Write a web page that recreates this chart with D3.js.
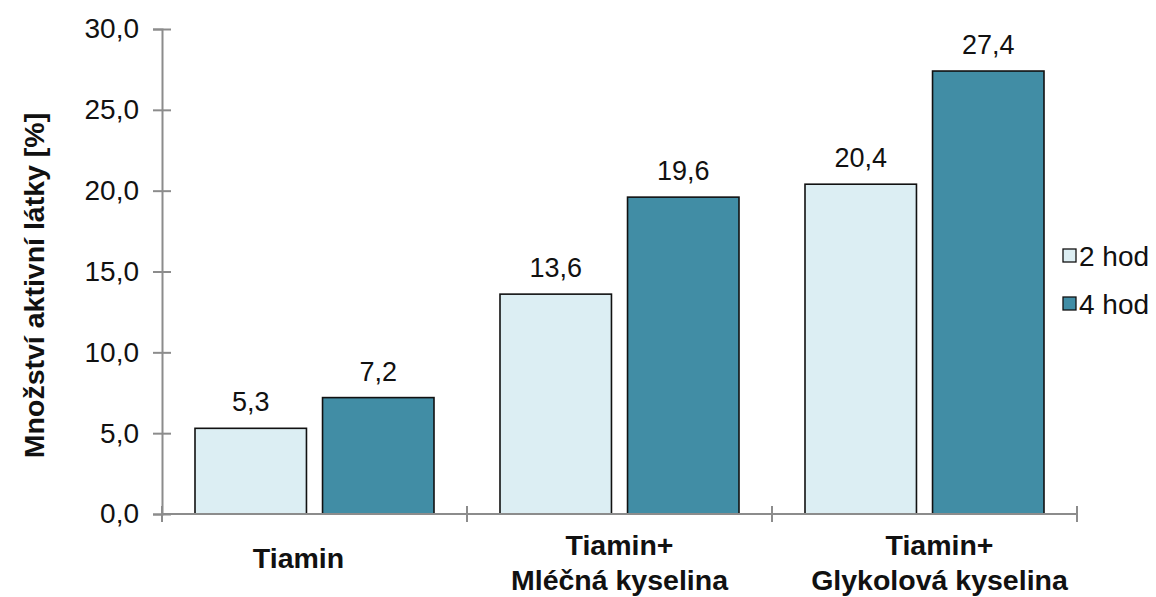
<!DOCTYPE html>
<html><head><meta charset="utf-8">
<script src="https://cdn.jsdelivr.net/npm/d3@7"></script>
<style>body{margin:0;background:#fff}svg{display:block;font-family:"Liberation Sans",Arial,sans-serif}</style>
</head><body><svg id="c" width="1156" height="597"></svg>
<script>
const categories = [["Tiamin"], ["Tiamin+", "Mléčná kyselina"], ["Tiamin+", "Glykolová kyselina"]];
const series = ["2 hod", "4 hod"];
const values2h = [5.3, 13.6, 20.4];
const values4h = [7.2, 19.6, 27.4];
const yTicks = [0, 5, 10, 15, 20, 25, 30];
const yTitle = "Množství aktivní látky [%]";

const colors = ["#DCEEF3", "#418DA5"];
const svg = d3.select("#c");
const L = 162, R = 1077, T = 29, B = 514;
const catIdx = categories.map((d, i) => i);
const x0 = d3.scaleBand().domain(catIdx).range([L, R]).padding(0);
const step = x0.bandwidth();
const x1 = d3.scaleBand().domain(series).range([33, step - 33]).paddingInner(0.126);
const y = d3.scaleLinear().domain([0, 30]).range([B, T]);
const fmt = v => d3.format(".1f")(v).replace(".", ",");
const data = [values2h, values4h];

// bars
catIdx.forEach(i => {
  series.forEach((s, k) => {
    const v = data[k][i];
    const bx = x0(i) + x1(s);
    svg.append("rect").attr("x", bx).attr("y", y(v))
      .attr("width", x1.bandwidth()).attr("height", y(0) - y(v))
      .attr("fill", colors[k]).attr("stroke", "#111").attr("stroke-width", 1.6);
    svg.append("text").attr("x", bx + x1.bandwidth() / 2).attr("y", y(v) - 17)
      .attr("text-anchor", "middle").attr("font-size", 27).attr("fill", "#111").text(fmt(v));
  });
});

// y axis
const ya = svg.append("g").attr("transform", `translate(${L},0)`)
  .call(d3.axisLeft(y).tickValues(yTicks).tickFormat(fmt).tickSize(9).tickPadding(14));
ya.select(".domain").attr("stroke", "#8c8c8c").attr("stroke-width", 2);
ya.selectAll(".tick line").attr("stroke", "#8c8c8c").attr("stroke-width", 2).attr("x2", -9).attr("x1", 9);
ya.selectAll(".tick text").attr("font-size", 28).attr("fill", "#111").attr("font-family", "Liberation Sans, Arial, sans-serif");

// x axis
const xa = svg.append("g").attr("transform", `translate(0,${B})`);
xa.append("line").attr("x1", L).attr("x2", R).attr("stroke", "#8c8c8c").attr("stroke-width", 2);
[...catIdx.map(i => x0(i)), R].forEach(px => {
  xa.append("line").attr("x1", px).attr("x2", px).attr("y1", -8).attr("y2", 8)
    .attr("stroke", "#8c8c8c").attr("stroke-width", 2);
});
const labelShift = [-16, 0, 15];
categories.forEach((lines, i) => {
  const cx = x0(i) + step / 2 + labelShift[i];
  const t = svg.append("text").attr("text-anchor", "middle").attr("font-size", 28.5)
    .attr("font-weight", "bold").attr("fill", "#111");
  const y0 = lines.length === 1 ? 568 : 555;
  lines.forEach((ln, j) => t.append("tspan").attr("x", cx).attr("y", y0 + j * 35).text(ln));
});

// y title
svg.append("text").attr("transform", `translate(44,${(T + B) / 2 + 14}) rotate(-90)`)
  .attr("text-anchor", "middle").attr("font-size", 28.5).attr("font-weight", "bold").attr("fill", "#111").text(yTitle);

// legend
series.forEach((s, k) => {
  const ly = 256 + k * 48;
  svg.append("rect").attr("x", 1063).attr("y", ly - 7).attr("width", 13).attr("height", 13)
    .attr("fill", colors[k]).attr("stroke", "#111").attr("stroke-width", 1.3);
  svg.append("text").attr("x", 1079).attr("y", ly + 10).attr("font-size", 28).attr("fill", "#111").text(s);
});
</script></body></html>
